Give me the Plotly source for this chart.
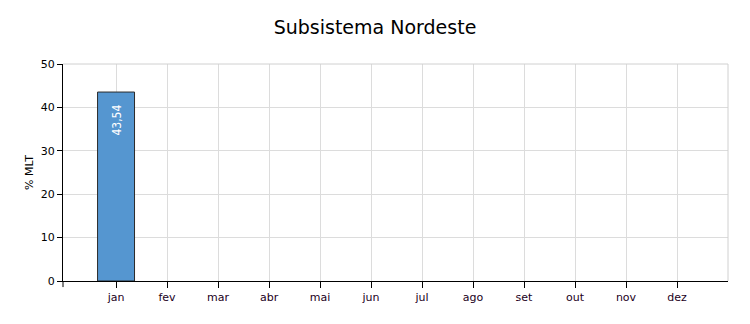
import plotly.graph_objects as go

months = ["jan", "fev", "mar", "abr", "mai", "jun", "jul", "ago", "set", "out", "nov", "dez"]
values = [43.54, None, None, None, None, None, None, None, None, None, None, None]
labels = ["43,54", "", "", "", "", "", "", "", "", "", "", ""]
y_ticks = [0, 10, 20, 30, 40, 50]

xpos = list(range(len(months)))

fig = go.Figure()
fig.add_trace(go.Bar(
    x=xpos, y=values, width=0.725,
    marker=dict(color="#5596d0", line=dict(color="#2b2b2b", width=1)),
    hoverinfo="skip",
))

annotations = []
for xi, v, lab in zip(xpos, values, labels):
    if v is not None and lab:
        annotations.append(dict(
            x=xi, y=v, xref="x", yref="y", text=lab, showarrow=False,
            textangle=-90, xanchor="center", yanchor="top", yshift=-11,
            font=dict(color="white", size=12, family="DejaVu Sans Condensed, DejaVu Sans"),
        ))

fig.update_layout(
    width=750, height=324,
    margin=dict(l=63, r=22, t=64, b=43),
    paper_bgcolor="white", plot_bgcolor="white",
    showlegend=False,
    title=dict(text="Subsistema Nordeste", x=0.5, xanchor="center", y=0.915, yanchor="middle",
               font=dict(family="DejaVu Sans", size=19, color="black")),
    font=dict(family="DejaVu Sans", size=11, color="black"),
    annotations=annotations,
    xaxis=dict(
        range=[-1.04, 12.0], tickvals=xpos, ticktext=months,
        showgrid=True, gridcolor="#dcdcdc", gridwidth=1,
        ticks="outside", ticklen=6, tickcolor="black",
        showline=True, linecolor="black", linewidth=1,
        zeroline=False, fixedrange=True,
        tickfont=dict(family="DejaVu Sans", size=11, color="#220022"),
    ),
    yaxis=dict(
        range=[0, 50], tickvals=y_ticks,
        showgrid=True, gridcolor="#dcdcdc", gridwidth=1,
        ticks="outside", ticklen=5, tickcolor="black",
        showline=True, linecolor="black", linewidth=1,
        zeroline=False,
        title=dict(text="% MLT", font=dict(size=11, family="DejaVu Sans"), standoff=4),
        tickfont=dict(family="DejaVu Sans", size=11, color="black"),
    ),
    shapes=[
        dict(type="line", xref="paper", yref="paper", x0=0, x1=1, y0=1, y1=1,
             line=dict(color="#d0d0d0", width=1)),
        dict(type="line", xref="paper", yref="paper", x0=1, x1=1, y0=0, y1=1,
             line=dict(color="#d0d0d0", width=1)),
        dict(type="line", xref="paper", yref="paper", x0=0, x1=0, y0=0, y1=-0.028,
             line=dict(color="black", width=1)),
    ],
)

fig.write_html("out.html")
